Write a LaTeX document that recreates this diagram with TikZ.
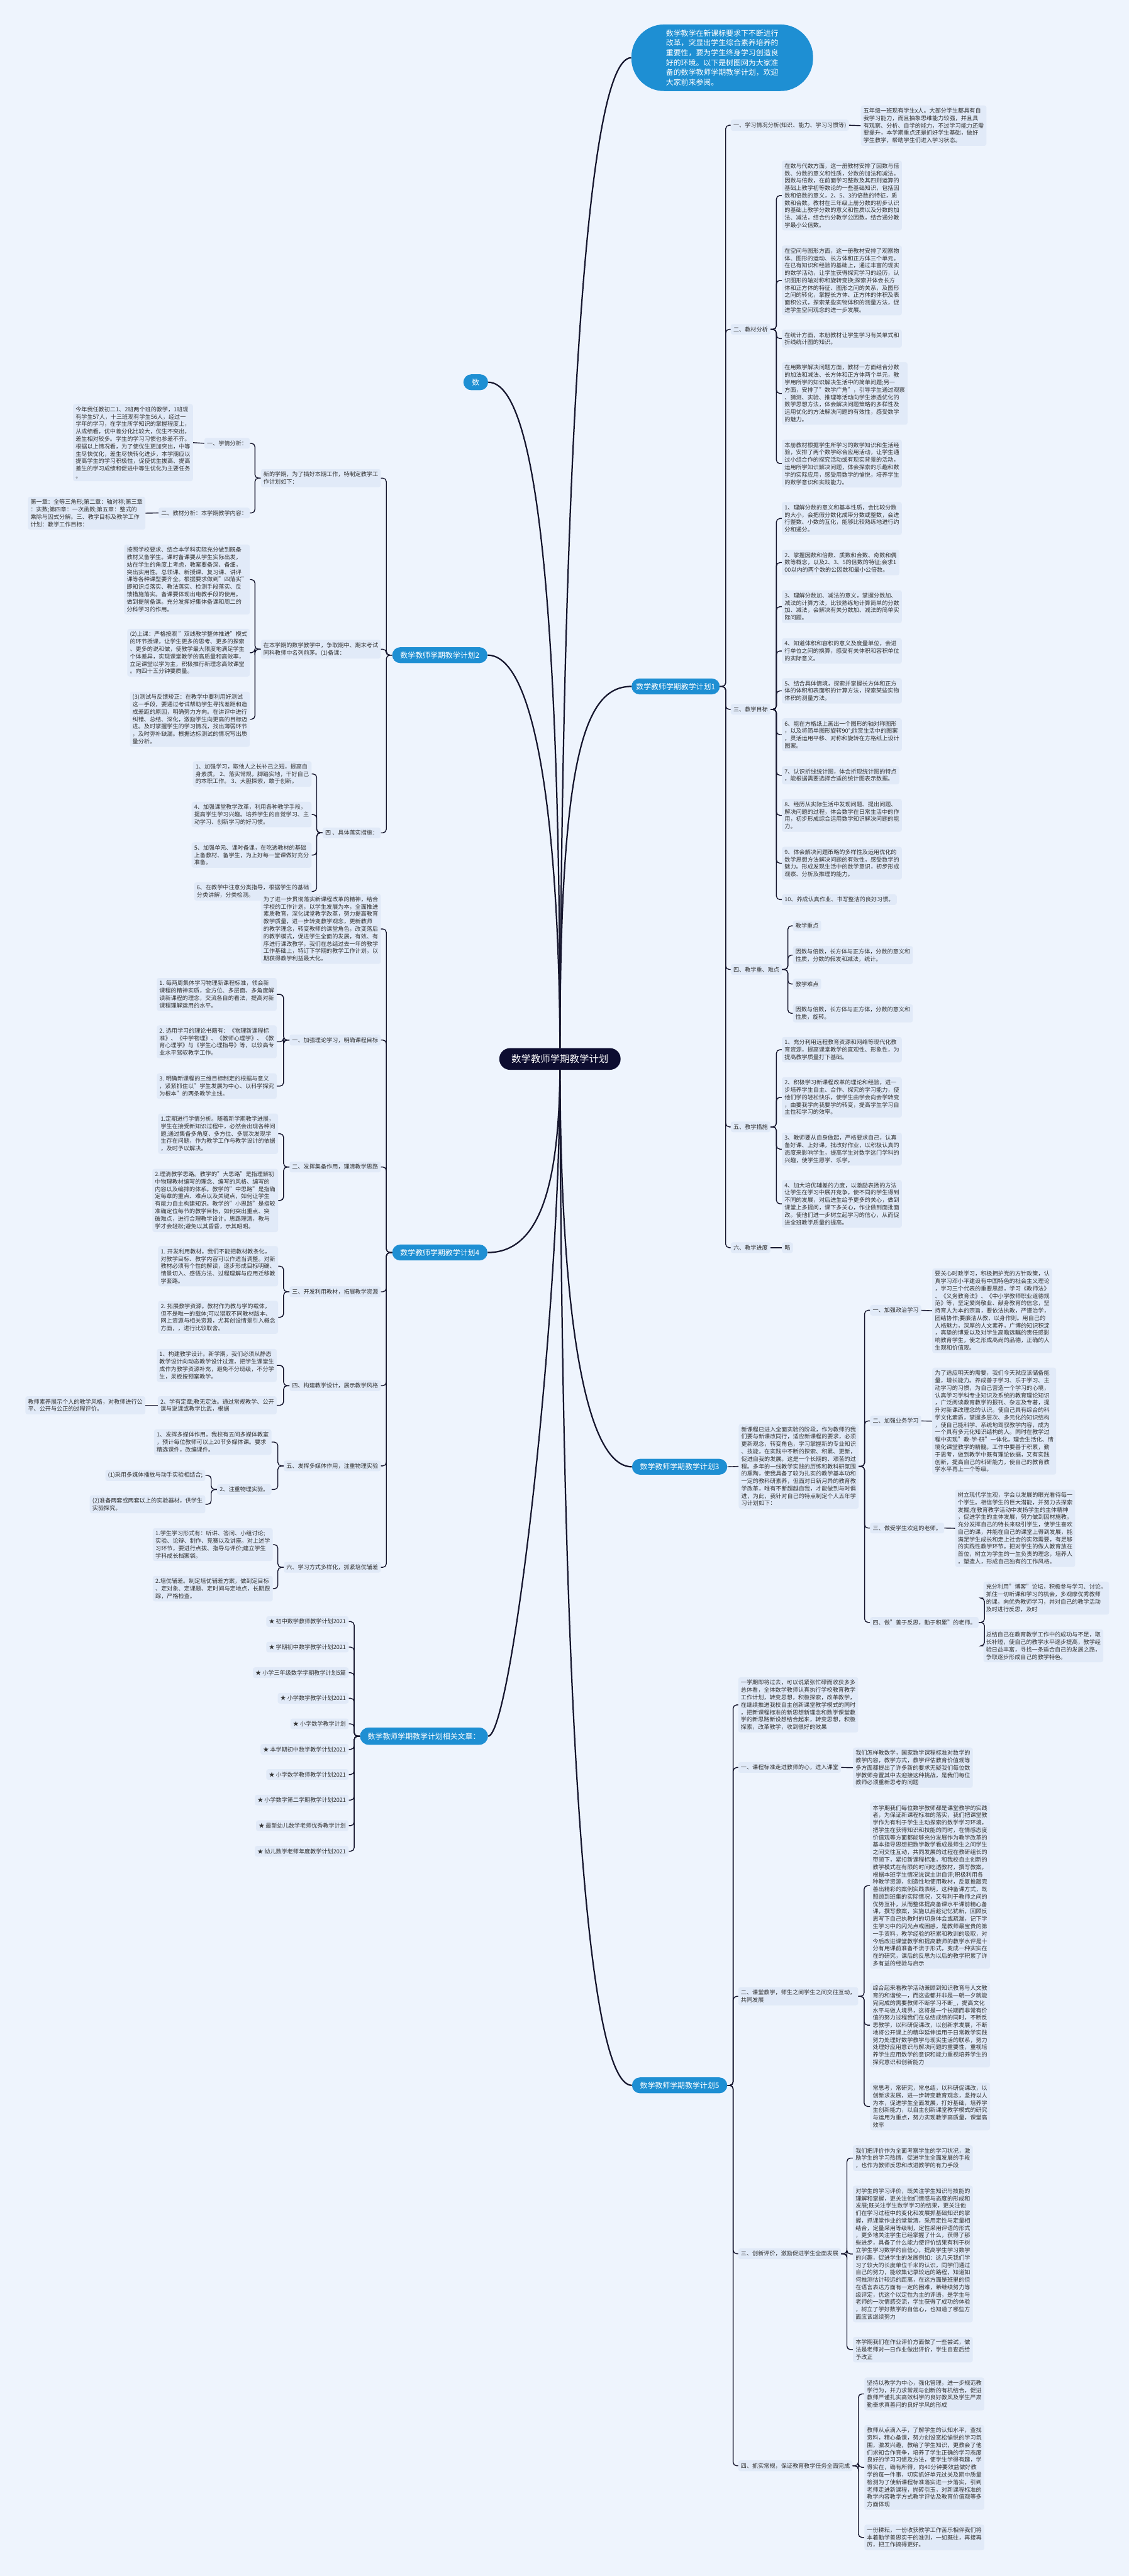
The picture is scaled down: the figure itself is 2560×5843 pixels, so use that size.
\documentclass[tikz,border=0pt]{standalone}
\usepackage{fontspec}
\setmainfont{Noto Sans CJK SC}
\definecolor{bgc}{HTML}{EEF4FD}
\definecolor{boxc}{HTML}{E1EAF8}
\definecolor{bluec}{HTML}{1E8FD3}
\definecolor{rootc}{HTML}{0D0D30}
\definecolor{linec}{HTML}{16162E}
\definecolor{txtc}{HTML}{333333}
\newcommand\rcn[2]{\draw[br] (#1.east) -- ++(13,0) |- (#2.west);}
\newcommand\lcn[2]{\draw[br] (#1.west) -- ++(-13,0) |- (#2.east);}
\begin{document}
\begin{tikzpicture}[x=0.5pt,y=-0.5pt,
  tb/.style={fill=boxc, rounded corners=2.5pt, inner xsep=3pt, inner ysep=3pt, align=left, font=\fontsize{6.5}{8.4}\selectfont, text=txtc},
  bn/.style={fill=bluec, rounded corners=9pt, text=white, font=\fontsize{8.5}{10}\selectfont, minimum height=18pt, minimum width=108pt, inner sep=2pt},
  br/.style={draw=linec, line width=1pt, rounded corners=4pt},
  mc/.style={draw=linec, line width=1.6pt}]
\fill[bgc] (0,0) rectangle (2560,5843);
\useasboundingbox (0,0) rectangle (2560,5843);

% root and main nodes
\node[fill=rootc, text=white, rounded corners=12pt, minimum width=137.5pt, minimum height=24.5pt, font=\fontsize{11}{13}\selectfont, inner sep=0pt] (root) at (1270,2402) {数学教师学期教学计划};
\node[fill=bluec, text=white, rounded corners=37pt, minimum width=206pt, minimum height=75.5pt, align=left, font=\fontsize{8.5}{11.15}\selectfont, inner sep=0pt] (intro) at (1638,131) {数学教学在新课标要求下不断进行\\改革，突显出学生综合素养培养的\\重要性，要为学生终身学习创造良\\好的环境。以下是树图网为大家准\\备的数学教师学期教学计划，欢迎\\大家前来参阅。};
\node[bn, minimum width=28pt] (shu) at (1079,867) {数};
\node[bn, minimum width=100pt, anchor=west] (p1) at (1432,1557) {数学教师学期教学计划1};
\node[bn, anchor=east] (p2) at (1106,1486) {数学教师学期教学计划2};
\node[bn, anchor=west] (p3) at (1433,3327) {数学教师学期教学计划3};
\node[bn, anchor=east] (p4) at (1106,2841) {数学教师学期教学计划4};
\node[bn, anchor=west] (p5) at (1433,4730) {数学教师学期教学计划5};
\node[bn, minimum width=145pt, minimum height=19.5pt, rounded corners=9.75pt, anchor=east] (rel) at (1107,3938) {数学教师学期教学计划相关文章：};

\draw[mc] (root.north) .. controls (1270,1500) and (1230,867) .. (shu.east);
\draw[mc] (root.north) .. controls (1268,1900) and (1220,1486) .. (p2.east);
\draw[mc] (root.north) .. controls (1275,1200) and (1320,131) .. (intro.west);
\draw[mc] (root.north) .. controls (1270,1700) and (1330,1557) .. (p1.west);
\draw[mc] (root.south) .. controls (1268,2700) and (1220,2841) .. (p4.east);
\draw[mc] (root.south) .. controls (1272,3000) and (1330,3327) .. (p3.west);
\draw[mc] (root.south) .. controls (1275,3900) and (1330,4730) .. (p5.west);
\draw[mc] (root.south) .. controls (1270,3000) and (1160,3938) .. (rel.east);

% ===== plan 1 =====
\node[tb,anchor=west] (a1) at (1657,284) {一、学习情况分析(知识、能力、学习习惯等)};
\node[tb,anchor=west] (a1t) at (1952,285) {五年级一班现有学生x人。大部分学生都具有自\\我学习能力，而且抽象思维能力较强，并且具\\有观察、分析、自学的能力，不过学习能力还需\\要提升，本学期重点还是抓好学生基础，做好\\学生教学，帮助学生们进入学习状态。};
\node[tb,anchor=west] (a2) at (1657,747) {二、教材分析};
\node[tb,anchor=west] (a2a) at (1773,443.5) {在数与代数方面，这一册教材安排了因数与倍\\数、分数的意义和性质，分数的加法和减法。\\因数与倍数，在前面学习整数及其四则运算的\\基础上教学初等数论的一些基础知识，包括因\\数和倍数的意义，2、5、3的倍数的特征，质\\数和合数。教材在三年级上册分数的初步认识\\的基础上教学分数的意义和性质以及分数的加\\法、减法，结合约分教学公因数，结合通分教\\学最小公倍数。};
\node[tb,anchor=west] (a2b) at (1773,636) {在空间与图形方面，这一册教材安排了观察物\\体、图形的运动、长方体和正方体三个单元。\\在已有知识和经验的基础上，通过丰富的现实\\的数学活动，让学生获得探究学习的经历，认\\识图形的轴对称和旋转变换;探索并体会长方\\体和正方体的特征、图形之间的关系，及图形\\之间的转化，掌握长方体、正方体的体积及表\\面积公式，探索某些实物体积的测量方法，促\\进学生空间观念的进一步发展。};
\node[tb,anchor=west] (a2c) at (1773,768) {在统计方面，本册教材让学生学习有关单式和\\折线统计图的知识。};
\node[tb,anchor=west] (a2d) at (1773,892.5) {在用数学解决问题方面，教材一方面结合分数\\的加法和减法、长方体和正方体两个单元，教\\学用所学的知识解决生活中的简单问题;另一\\方面，安排了"数学广角"，引导学生通过观察\\、猜测、实验、推理等活动向学生渗透优化的\\数学思想方法，体会解决问题策略的多样性及\\运用优化的方法解决问题的有效性，感受数学\\的魅力。};
\node[tb,anchor=west] (a2e) at (1773,1051.5) {本册教材根据学生所学习的数学知识和生活经\\验，安排了两个数学综合应用活动，让学生通\\过小组合作的探究活动或有现实背景的活动，\\运用所学知识解决问题，体会探索的乐趣和数\\学的实际应用，感受用数学的愉悦，培养学生\\的数学意识和实践能力。};
\node[tb,anchor=west] (a3) at (1657,1609) {三、教学目标};
\node[tb,anchor=west] (a3a) at (1773,1176) {1、理解分数的意义和基本性质，会比较分数\\的大小，会把假分数化成带分数或整数，会进\\行整数、小数的互化，能够比较熟练地进行约\\分和通分。};
\node[tb,anchor=west] (a3b) at (1773,1276) {2、掌握因数和倍数、质数和合数、奇数和偶\\数等概念，以及2、3、5的倍数的特征;会求1\\00以内的两个数的公因数和最小公倍数。};
\node[tb,anchor=west] (a3c) at (1773,1376) {3、理解分数加、减法的意义，掌握分数加、\\减法的计算方法，比较熟练地计算简单的分数\\加、减法，会解决有关分数加、减法的简单实\\际问题。};
\node[tb,anchor=west] (a3d) at (1773,1476.5) {4、知道体积和容积的意义及度量单位，会进\\行单位之间的换算，感受有关体积和容积单位\\的实际意义。};
\node[tb,anchor=west] (a3e) at (1773,1567) {5、结合具体情境，探索并掌握长方体和正方\\体的体积和表面积的计算方法，探索某些实物\\体积的测量方法。};
\node[tb,anchor=west] (a3f) at (1773,1666.5) {6、能在方格纸上画出一个图形的轴对称图形\\，以及将简单图形旋转90°;欣赏生活中的图案\\，灵活运用平移、对称和旋转在方格纸上设计\\图案。};
\node[tb,anchor=west] (a3g) at (1773,1758.5) {7、认识折线统计图，体会折现统计图的特点\\，能根据需要选择合适的统计图表示数据。};
\node[tb,anchor=west] (a3h) at (1773,1849.5) {8、经历从实际生活中发现问题、提出问题、\\解决问题的过程，体会数学在日常生活中的作\\用，初步形成综合运用数学知识解决问题的能\\力。};
\node[tb,anchor=west] (a3i) at (1773,1958) {9、体会解决问题策略的多样性及运用优化的\\数学思想方法解决问题的有效性，感受数学的\\魅力。形成发现生活中的数学意识，初步形成\\观察、分析及推理的能力。};
\node[tb,anchor=west] (a3j) at (1773,2040.5) {10、养成认真作业、书写整洁的良好习惯。};
\node[tb,anchor=west] (a4) at (1657,2199) {四、教学重、难点};
\node[tb,anchor=west] (a4a) at (1798,2100) {教学重点};
\node[tb,anchor=west] (a4b) at (1798,2166.5) {因数与倍数，长方体与正方体，分数的意义和\\性质，分数的假发和减法，统计。};
\node[tb,anchor=west] (a4c) at (1798,2232) {教学难点};
\node[tb,anchor=west] (a4d) at (1798,2298.5) {因数与倍数，长方体与正方体，分数的意义和\\性质，旋转。};
\node[tb,anchor=west] (a5) at (1657,2556) {五、教学措施};
\node[tb,anchor=west] (a5a) at (1773,2381) {1、充分利用远程教育资源和网络等现代化教\\育资源，提高课堂教学的直观性、形象性，为\\提高教学质量打下基础。};
\node[tb,anchor=west] (a5b) at (1773,2489) {2、积极学习新课程改革的理论和经验，进一\\步培养学生自主、合作、探究的学习能力，使\\他们学的轻松快乐，使学生由学会向会学转变\\，由要我学向我要学的转变，提高学生学习自\\主性和学习的效率。};
\node[tb,anchor=west] (a5c) at (1773,2606.5) {3、教师要从自身做起，严格要求自己，认真\\备好课、上好课，批改好作业，以积极认真的\\态度来影响学生，提高学生对数学这门学科的\\兴趣，使学生愿学、乐学。};
\node[tb,anchor=west] (a5d) at (1773,2730.5) {4、加大培优辅差的力度，以激励表扬的方法\\让学生在学习中展开竞争，使不同的学生得到\\不同的发展，对后进生给予更多的关心，做到\\课堂上多提问，课下多关心，作业做到面批面\\改。使他们进一步树立起学习的信心，从而促\\进全班教学质量的提高。};
\node[tb,anchor=west] (a6) at (1657,2830) {六、教学进度};
\node[tb,anchor=west] (a6a) at (1773,2830) {略};

\rcn{p1}{a1}\rcn{p1}{a2}\rcn{p1}{a3}\rcn{p1}{a4}\rcn{p1}{a5}\rcn{p1}{a6}
\draw[br] (a1.east) -- (a1t.west);
\rcn{a2}{a2a}\rcn{a2}{a2b}\rcn{a2}{a2c}\rcn{a2}{a2d}\rcn{a2}{a2e}
\rcn{a3}{a3a}\rcn{a3}{a3b}\rcn{a3}{a3c}\rcn{a3}{a3d}\rcn{a3}{a3e}
\rcn{a3}{a3f}\rcn{a3}{a3g}\rcn{a3}{a3h}\rcn{a3}{a3i}\rcn{a3}{a3j}
\rcn{a4}{a4a}\rcn{a4}{a4b}\rcn{a4}{a4c}\rcn{a4}{a4d}
\rcn{a5}{a5a}\rcn{a5}{a5b}\rcn{a5}{a5c}\rcn{a5}{a5d}
\draw[br] (a6.east) -- (a6a.west);

% ===== plan 3 =====
\node[tb,anchor=west] (b0) at (1675,3326) {新课程已进入全面实验的阶段，作为教师的我\\们要与新课改同行，适应新课程的要求，必须\\更新观念，转变角色，学习掌握新的专业知识\\、技能，在实践中不断的探索、积累、更新，\\促进自我的发展。这是一个长期的、艰苦的过\\程。多年的一线教学实践的历练和教科研氛围\\的熏陶，使我具备了较为扎实的教学基本功和\\一定的教科研素养，但面对日新月异的教育教\\学改革，唯有不断超越自我，才能做到与时俱\\进，为此，我针对自己的特点制定个人五年学\\习计划如下：};
\node[tb,anchor=west] (b1) at (1973,2972) {一、加强政治学习};
\node[tb,anchor=west] (b1t) at (2114,2973) {要关心时政学习，积极拥护党的方针政策，认\\真学习邓小平建设有中国特色的社会主义理论\\，学习三个代表的重要思想，学习《教师法》\\、《义务教育法》、《中小学教师职业道德规\\范》等，坚定爱岗敬业、献身教育的信念，坚\\持育人为本的宗旨，要依法执教，严谨治学，\\团结协作;要廉洁从教，以身作则。用自己的\\人格魅力，深厚的人文素养，广博的知识积淀\\，真挚的博爱以及对学生高瞻远瞩的责任感影\\响教育学生，使之形成高尚的品德，正确的人\\生观和价值观。};
\node[tb,anchor=west] (b2) at (1973,3223) {二、加强业务学习};
\node[tb,anchor=west] (b2t) at (2114,3223.5) {为了适应明天的需要，我们今天就应该储备能\\量，增长能力。养成善于学习、乐于学习、主\\动学习的习惯，为自己营造一个学习的心境，\\认真学习学科专业知识及系统的教育理论知识\\，广泛阅读教育教学的报刊、杂志及专著，提\\升对新课改理念的认识。使自己具有综合的科\\学文化素质，掌握多层次、多元化的知识结构\\，使自己能科学、系统地驾驭教学内容，成为\\一个具有多元化知识结构的人。同时在教学过\\程中实现"教-学-研"一体化，理会生活化、情\\境化课堂教学的精髓。工作中要善于积累，勤\\于思考，做到教学中既有理论依据，又有实践\\创新，提高自己的科研能力，使自己的教育教\\学水平再上一个等级。};
\node[tb,anchor=west] (b3) at (1973,3466) {三、做受学生欢迎的老师。};
\node[tb,anchor=west] (b3t) at (2166,3466.5) {树立现代学生观，学会以发展的眼光看待每一\\个学生。相信学生的巨大潜能，并努力去探索\\发掘;在教育教学活动中发扬学生的主体精神\\，促进学生的主体发展，努力做到因材施教。\\充分发挥自己的特长来吸引学生，使学生喜欢\\自己的课，并能在自己的课堂上得到发展，能\\满足学生成长和走上社会的实际需要，有足够\\的实践性教学环节。把对学生的做人教育放在\\首位，树立为学生的一生负责的理念，培养人\\，塑造人，形成自己独有的工作风格。};
\node[tb,anchor=west] (b4) at (1973,3680) {四、做"善于反思，勤于积累"的老师。};
\node[tb,anchor=west] (b4a) at (2230,3625) {充分利用"博客"论坛，积极参与学习、讨论。\\抓住一切听课和学习的机会，多观摩优秀教师\\的课，向优秀教师学习，并对自己的教学活动\\及时进行反思，及时};
\node[tb,anchor=west] (b4b) at (2230,3733) {总结自己在教育教学工作中的成功与不足，取\\长补短，使自己的教学水平逐步提高，教学经\\验日益丰富，寻找一条适合自己的发展之路，\\争取逐步形成自己的教学特色。};
\draw[br] (p3.east) -- (b0.west);
\rcn{b0}{b1}\rcn{b0}{b2}\rcn{b0}{b3}\rcn{b0}{b4}
\draw[br] (b1.east) -- (b1t.west);
\draw[br] (b2.east) -- (b2t.west);
\draw[br] (b3.east) -- (b3t.west);
\rcn{b4}{b4a}\rcn{b4}{b4b}

% ===== plan 5 =====
\node[tb,anchor=west] (c0) at (1674,3867) {一学期即将过去，可以说紧张忙碌而收获多多\\总体看，全体数学教师认真执行学校教育教学\\工作计划，转变思想，积极探索，改革教学，\\在继续推进我校自主创新课堂教学模式的同时\\，把新课程标准的新思想新理念和数学课堂教\\学的新思路新设想结合起来，转变思想，积极\\探索，改革教学，收到很好的效果};
\node[tb,anchor=west] (c1) at (1674,4009) {一、课程标准走进教师的心，进入课堂};
\node[tb,anchor=west] (c1t) at (1934,4009.5) {我们怎样教数学，国家数学课程标准对数学的\\教学内容，教学方式，教学评估教育价值观等\\多方面都提出了许多新的要求无疑我们每位数\\学教师身置其中去迎接这种挑战，是我们每位\\教师必须重新思考的问题};
\node[tb,anchor=west] (c2) at (1674,4528) {二、课堂教学，师生之间学生之间交往互动，\\共同发展};
\node[tb,anchor=west] (c2a) at (1973,4277) {本学期我们每位数学教师都是课堂教学的实践\\者，为保证新课程标准的落实，我们把课堂教\\学作为有利于学生主动探索的数学学习环境，\\把学生在获得知识和技能的同时，在情感态度\\价值观等方面都能够充分发展作为教学改革的\\基本指导思想把数学教学看成是师生之间学生\\之间交往互动，共同发展的过程在教研组长的\\带领下，紧扣新课程标准，和我校自主创新的\\教学模式在有限的时间吃透教材，撰写教案，\\根据本班学生情况说课主讲自评;积极利用各\\种教学资源，创造性地使用教材，反复推敲完\\善出精彩的案例实践表明，这种备课方式，既\\照顾到班集的实际情况，又有利于教师之间的\\优势互补，从而整体提高备课水平课前精心备\\课，撰写教案，实施以后趁记忆犹新，回顾反\\思写下自己执教时的切身体会或疏漏，记下学\\生学习中的闪光点或困惑，是教师最宝贵的第\\一手资料，教学经验的积累和教训的吸取，对\\今后改进课堂教学和提高教师的教学水评是十\\分有用课前准备不流于形式，变成一种实实在\\在的研究，课后的反思为以后的教学积累了许\\多有益的经验与启示};
\node[tb,anchor=west] (c2b) at (1973,4593.5) {综合起来看教学活动兼顾到知识教育与人文教\\育的和谐统一，而这些都并非是一朝一夕就能\\完完成的需要教师不断学习不断\_，提高文化\\水平与做人境界，这将是一个长期而非常有价\\值的努力过程我们在总结成绩的同时，不断反\\思教学，以科研促课改，以创新求发展，不断\\地将公开课上的精华延伸运用于日常教学实践\\努力处理好数学教学与现实生活的联系，努力\\处理好应用意识与解决问题的重要性，重视培\\养学生应用数学的意识和能力重视培养学生的\\探究意识和创新能力};
\node[tb,anchor=west] (c2c) at (1973,4778) {常思考，常研究，常总结，以科研促课改，以\\创新求发展，进一步转变教育观念，坚持以人\\为本，促进学生全面发展，打好基础，培养学\\生创新能力，以自主创新课堂教学模式的研究\\与运用为重点，努力实现教学高质量，课堂高\\效率};
\node[tb,anchor=west] (c3) at (1674,5112) {三、创新评价，激励促进学生全面发展};
\node[tb,anchor=west] (c3a) at (1934,4895) {我们把评价作为全面考察学生的学习状况，激\\励学生的学习热情，促进学生全面发展的手段\\，也作为教师反思和改进教学的有力手段};
\node[tb,anchor=west] (c3b) at (1934,5112.5) {对学生的学习评价，既关注学生知识与技能的\\理解和掌握，更关注他们情感与态度的形成和\\发展;既关注学生数学学习的结果，更关注他\\们在学习过程中的变化和发展抓基础知识的掌\\握，抓课堂作业的堂堂清，采用定性与定量相\\结合，定量采用等级制，定性采用评语的形式\\，更多地关注学生已经掌握了什么，获得了那\\些进步，具备了什么能力使评价结果有利于树\\立学生学习数学的自信心，提高学生学习数学\\的兴趣，促进学生的发展例如：这几天我们学\\习了较大的长度单位千米的认识，同学们通过\\自己的努力，能收集记录较远的路程，知道如\\何推测估计较远的距离，在这方面是班里的但\\在语言表达方面有一定的困难，希继续努力等\\级评定，优这个以定性为主的评语，是学生与\\老师的一次情感交流，学生获得了成功的体验\\，树立了学好数学的自信心，也知道了哪些方\\面应该继续努力};
\node[tb,anchor=west] (c3c) at (1934,5329.5) {本学期我们在作业评价方面做了一些尝试，做\\法是老师对一日作业做出评价，学生自查后给\\予改正};
\node[tb,anchor=west] (c4) at (1674,5593) {四、抓实常规，保证教育教学任务全面完成};
\node[tb,anchor=west] (c4a) at (1960,5430) {坚持以教学为中心，强化管理，进一步规范教\\学行为，并力求常规与创新的有机结合，促进\\教师严谨扎实高效科学的良好教风及学生严肃\\勤奋求真善问的良好学风的形成};
\node[tb,anchor=west] (c4b) at (1960,5596.5) {教师从点滴入手，了解学生的认知水平，查找\\资料，精心备课，努力创设宽松愉悦的学习氛\\围，激发兴趣，教给了学生知识，更教会了他\\们求知合作竞争，培养了学生正确的学习态度\\良好的学习习惯及方法，使学生学得有趣，学\\得实在，确有所得，向40分钟要效益做好教\\学的每一件事，切实抓好单元过关及期中质量\\检测为了使新课程标准落实进一步落实，引到\\老师走进新课程，抛砖引玉，对新课程标准的\\教学内容教学方式教学评估及教育价值观等多\\方面体现};
\node[tb,anchor=west] (c4c) at (1960,5755.5) {一份耕耘，一份收获教学工作苦乐相伴我们将\\本着勤学善思实干的准则，一如既往，再接再\\厉，把工作搞得更好。};
\rcn{p5}{c0}\rcn{p5}{c1}\rcn{p5}{c2}\rcn{p5}{c3}\rcn{p5}{c4}
\draw[br] (c1.east) -- (c1t.west);
\rcn{c2}{c2a}\rcn{c2}{c2b}\rcn{c2}{c2c}
\rcn{c3}{c3a}\rcn{c3}{c3b}\rcn{c3}{c3c}
\rcn{c4}{c4a}\rcn{c4}{c4b}\rcn{c4}{c4c}

% ===== plan 2 =====
\node[tb,anchor=east] (d1) at (864,1084.5) {新的学期，为了搞好本期工作，特制定教学工\\作计划如下：};
\node[tb,anchor=east] (d1a) at (567,1005.5) {一、学情分析：};
\node[tb,anchor=east] (d1at) at (438,1004) {今年我任教初二1、2班两个班的教学，1班现\\有学生57人，十三班现有学生56人，经过一\\学年的学习，在学生所学知识的掌握程度上，\\从成绩看，优中差分化比较大，优生不突出，\\差生相对较多。学生的学习习惯也参差不齐。\\根据以上情况看，为了使优生更加突出，中等\\生尽快优化，差生尽快转化进步，本学期应以\\提高学生的学习积极性，促使优生拔高、提高\\差生的学习成绩和促进中等生优化为主要任务\\。};
\node[tb,anchor=east] (d1b) at (567,1163.5) {二、教材分析：本学期教学内容：};
\node[tb,anchor=east] (d1bt) at (330,1164) {第一章：全等三角形;第二章：轴对称;第三章\\：实数;第四章：一次函数;第五章：整式的\\乘除与因式分解。三、教学目标及教学工作\\计划：教学工作目标：};
\node[tb,anchor=east] (d2) at (864,1472.5) {在本学期的数学教学中，争取期中、期末考试\\同科教师中名列前茅。(1)备课：};
\node[tb,anchor=east] (d2a) at (567,1314.5) {按照学校要求、结合本学科实际充分做到既备\\教材又备学生。课时备课要从学生实际出发，\\站在学生的角度上考虑，教案要备深、备细，\\突出实用性。总领课、新授课、复习课、讲评\\课等各种课型要齐全。根据要求做到"四落实"\\即知识点落实、教法落实、检测手段落实、反\\馈措施落实。备课要体现出电教手段的使用。\\做到提前备课。充分发挥好集体备课和周二的\\分科学习的作用。};
\node[tb,anchor=east] (d2b) at (567,1480.5) {(2)上课：严格按照 "双线教学整体推进"模式\\的环节授课，让学生更多的思考、更多的探索\\、更多的说和做，使教学最大限度地满足学生\\个体差异，实现课堂教学的高质量和高效率，\\立足课堂以学为主，积极推行新理念高效课堂\\。向四十五分钟要质量。};
\node[tb,anchor=east] (d2c) at (567,1631.5) {(3)测试与反馈矫正：在教学中要利用好测试\\这一手段，要通过考试帮助学生寻找差距和造\\成差距的原因，明确努力方向。在讲评中进行\\纠错、总结、深化，激励学生向更高的目标迈\\进。及时掌握学生的学习情况，找出薄弱环节\\，及时弥补缺漏。根据达标测试的情况写出质\\量分析。};
\node[tb,anchor=east] (d3) at (864,1889) {四 、具体落实措施：};
\node[tb,anchor=east] (d3a) at (707,1755.5) {1、加强学习，取他人之长补己之短，提高自\\身素质。 2、落实常规，脚踏实地，干好自己\\的本职工作。 3、大胆探索，敢于创新。};
\node[tb,anchor=east] (d3b) at (707,1847.5) {4、加强课堂教学改革，利用各种教学手段，\\提高学生学习兴趣。培养学生的自觉学习、主\\动学习、创新学习的好习惯。};
\node[tb,anchor=east] (d3c) at (707,1939.5) {5、加强单元、课时备课，在吃透教材的基础\\上备教材、备学生，为上好每一堂课做好充分\\准备。};
\node[tb,anchor=east] (d3d) at (707,2022) {6、在教学中注意分类指导，根据学生的基础\\分类讲解，分类检测。};
\lcn{p2}{d1}\lcn{p2}{d2}\lcn{p2}{d3}
\lcn{d1}{d1a}\lcn{d1}{d1b}
\draw[br] (d1a.west) -- (d1at.east);
\draw[br] (d1b.west) -- (d1bt.east);
\lcn{d2}{d2a}\lcn{d2}{d2b}\lcn{d2}{d2c}
\lcn{d3}{d3a}\lcn{d3}{d3b}\lcn{d3}{d3c}\lcn{d3}{d3d}

% ===== plan 4 =====
\node[tb,anchor=east] (e0) at (864,2107) {为了进一步贯彻落实新课程改革的精神，结合\\学校的工作计划，以学生发展为本，全面推进\\素质教育，深化课堂教学改革，努力提高教育\\教学质量，进一步转变教学观念，更新教师\\的教学理念，转变教师的课堂角色，改变落后\\的教学模式，促进学生全面的发展，有效、有\\序进行课改教学，我们在总结过去一年的教学\\工作基础上，特订下学期的教学工作计划，以\\期获得教学利益最大化。};
\node[tb,anchor=east] (e1) at (864,2359) {一、加强理论学习，明确课程目标};
\node[tb,anchor=east] (e1a) at (628,2255.5) {1. 每两周集体学习物理新课程标准，领会新\\课程的精神实质，全方位、多层面、多角度解\\读新课程的理念，交流各自的看法，提高对新\\课程理解运用的水平。};
\node[tb,anchor=east] (e1b) at (628,2363) {2. 选用学习的理论书籍有：《物理新课程标\\准》、《中学物理》、《教师心理学》、《教\\育心理学》与《学生心理指导》等，以较高专\\业水平驾驭教学工作。};
\node[tb,anchor=east] (e1c) at (628,2463.5) {3. 明确新课程的三维目标制定的根据与意义\\，紧紧抓住以"学生发展为中心、以科学探究\\为根本"的两条教学主线。};
\node[tb,anchor=east] (e2) at (864,2647) {二、发挥集备作用，理清教学思路};
\node[tb,anchor=east] (e2a) at (631,2571.5) {1.定期进行学情分析。随着新学期教学进展，\\学生在接受新知识过程中，必然会出现各种问\\题;通过集备多角度、多方位、多层次发现学\\生存在问题，作为教学工作与教学设计的依据\\，及时予以解决。};
\node[tb,anchor=east] (e2b) at (631,2723) {2.理清教学思路。教学的"大思路"是指理解初\\中物理教材编写的理念、编写的风格、编写的\\内容以及编排的体系。教学的"中思路"是指确\\定每章的重点、难点以及关键点，如何让学生\\有能力自主构建知识。教学的"小思路"是指较\\准确定位每节的教学目标，如何突出重点、突\\破难点，进行合理教学设计。思路理清，教与\\学才会轻松;避免以其昏昏，示其昭昭。};
\node[tb,anchor=east] (e3) at (864,2930) {三、开发利用教材，拓展教学资源};
\node[tb,anchor=east] (e3a) at (631,2872) {1. 开发利用教材。我们不能把教材教条化，\\对教学目标、教学内容可以作适当调整。对新\\教材必须有个性的解读，逐步形成目标明确、\\情景切入、感悟方法、过程理解与应用迁移教\\学套路。};
\node[tb,anchor=east] (e3b) at (631,2988) {2. 拓展教学资源。教材作为教与学的载体，\\但不是唯一的载体;可以猎取不同教材版本、\\网上资源与相关资源，尤其创设情景引入概念\\方面，，进行比较取舍。};
\node[tb,anchor=east] (e4) at (864,3143) {四、构建教学设计，展示教学风格};
\node[tb,anchor=east] (e4a) at (628,3097) {1、构建教学设计。新学期，我们必须从静态\\教学设计向动态教学设计过渡，把学生课堂生\\成作为教学资源补充，避免不分班级，不分学\\生，呆板按预案教学。};
\node[tb,anchor=east] (e4b) at (628,3187.5) {2、学有定章;教无定法。通过常规教学、公开\\课与说课或教学比武，根据};
\node[tb,anchor=east] (e4c) at (330,3187.5) {教师素养展示个人的教学风格，对教师进行公\\平、公开与公正的过程评价。};
\node[tb,anchor=east] (e5) at (864,3325) {五、发挥多媒体作用，注重物理实验};
\node[tb,anchor=east] (e5a) at (616,3271) {1、发挥多媒体作用。我校有五间多媒体教室\\，预计每位教师可以上20节多媒体课。要求\\精选课件，改编课件。};
\node[tb,anchor=east] (e5b) at (616,3378.5) {2、注重物理实验。};
\node[tb,anchor=east] (e5b1) at (466,3346.5) {(1)采用多媒体播放与动手实验相结合;};
\node[tb,anchor=east] (e5b2) at (466,3412) {(2)准备两套或两套以上的实验器材，供学生\\实验探究。};
\node[tb,anchor=east] (e6) at (864,3555) {六、学习方式多样化，抓紧培优辅差};
\node[tb,anchor=east] (e6a) at (619,3503.5) {1.学生学习形式有：听讲、答问、小组讨论;\\实验、论辩、制作、竞赛以及讲座。对上述学\\习环节，要进行点拨、指导与评价;建立学生\\学科成长档案袋。};
\node[tb,anchor=east] (e6b) at (619,3603.5) {2.培优辅差。制定培优辅差方案，做到定目标\\、定对象、定课题、定时间与定地点，长期跟\\踪，严格检查。};
\lcn{p4}{e0}\lcn{p4}{e1}\lcn{p4}{e2}\lcn{p4}{e3}\lcn{p4}{e4}\lcn{p4}{e5}\lcn{p4}{e6}
\lcn{e1}{e1a}\lcn{e1}{e1b}\lcn{e1}{e1c}
\lcn{e2}{e2a}\lcn{e2}{e2b}
\lcn{e3}{e3a}\lcn{e3}{e3b}
\lcn{e4}{e4a}\lcn{e4}{e4b}
\draw[br] (e4b.west) -- (e4c.east);
\lcn{e5}{e5a}\lcn{e5}{e5b}
\lcn{e5b}{e5b1}\lcn{e5b}{e5b2}
\lcn{e6}{e6a}\lcn{e6}{e6b}

% ===== related =====
\node[tb,anchor=east] (r1) at (791,3678) {★ 初中数学教师教学计划2021};
\node[tb,anchor=east] (r2) at (791,3736) {★ 学期初中数学教学计划2021};
\node[tb,anchor=east] (r3) at (791,3794) {★ 小学三年级数学学期教学计划5篇};
\node[tb,anchor=east] (r4) at (791,3852) {★ 小学数学教学计划2021};
\node[tb,anchor=east] (r5) at (791,3910) {★ 小学数学教学计划};
\node[tb,anchor=east] (r6) at (791,3968) {★ 本学期初中数学教学计划2021};
\node[tb,anchor=east] (r7) at (791,4025) {★ 小学数学教师教学计划2021};
\node[tb,anchor=east] (r8) at (791,4083) {★ 小学数学第二学期教学计划2021};
\node[tb,anchor=east] (r9) at (791,4141) {★ 最新幼儿数学老师优秀教学计划};
\node[tb,anchor=east] (r10) at (791,4199) {★ 幼儿数学老师年度教学计划2021};
\lcn{rel}{r1}\lcn{rel}{r2}\lcn{rel}{r3}\lcn{rel}{r4}\lcn{rel}{r5}
\lcn{rel}{r6}\lcn{rel}{r7}\lcn{rel}{r8}\lcn{rel}{r9}\lcn{rel}{r10}
\end{tikzpicture}
\end{document}
